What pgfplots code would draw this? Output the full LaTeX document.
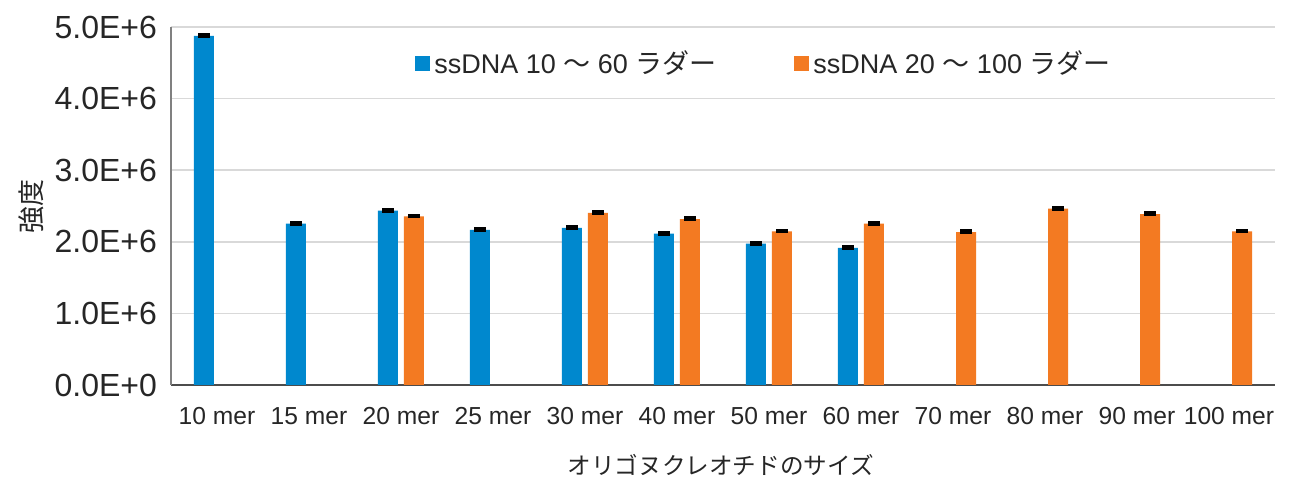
\documentclass[border=0pt]{standalone}
\usepackage{pgfplots}
\pgfplotsset{compat=1.18}
\usepackage{fontspec}
\setmainfont{Liberation Sans}
\newfontfamily\cjk{Noto Sans CJK JP}
\definecolor{blueC}{RGB}{0,136,206}
\definecolor{orangeC}{RGB}{243,122,34}
\definecolor{gridC}{RGB}{217,217,217}
\definecolor{txtC}{RGB}{38,38,38}
\begin{document}
\begin{tikzpicture}
\begin{axis}[
  scale only axis,
  width=552pt, height=179pt,
  ybar=3pt, bar width=10pt,
  xmin=-0.5, xmax=11.5,
  ymin=0, ymax=5e6,
  xtick={0,...,11},
  xticklabels={10 mer,15 mer,20 mer,25 mer,30 mer,40 mer,50 mer,60 mer,70 mer,80 mer,90 mer,100 mer},
  ytick={0,1e6,2e6,3e6,4e6,5e6},
  yticklabels={0.0E+0,1.0E+6,2.0E+6,3.0E+6,4.0E+6,5.0E+6},
  scaled y ticks=false,
  major tick length=0pt,
  tick style={draw=none},
  axis x line*=bottom, axis y line*=left,
  x axis line style={-, draw=black!70, line width=0.8pt},
  y axis line style={-, draw=black!50, line width=0.8pt},
  ymajorgrids, grid style={gridC, line width=0.8pt},
  xticklabel style={font=\fontsize{12.3}{14}\selectfont, text=txtC, yshift=-7pt, text height=9pt, text depth=1pt},
  yticklabel style={font=\fontsize{16}{18}\selectfont, text=txtC, xshift=-3.5pt},
  xlabel={\cjk オリゴヌクレオチドのサイズ},
  xlabel style={font=\fontsize{11.8}{14}\selectfont, text=txtC, at={(rel axis cs:0.498,0)}, anchor=center, yshift=-40pt},
  ylabel={\cjk 強度},
  ylabel style={font=\fontsize{13.5}{15}\selectfont, text=txtC, at={(rel axis cs:0,0.5)}, anchor=center, yshift=70pt},
  legend style={at={(rel axis cs:0.221,0.897)}, anchor=west, draw=none, fill=none, inner sep=0pt,
    font=\fontsize{13.5}{16}\selectfont, text=txtC, legend columns=2,
    /tikz/every even column/.append style={column sep=37pt}},
  legend image code/.code={\fill[#1,draw=none] (0pt,-3.7pt) rectangle (7.5pt,3.7pt);},
  legend cell align=left,
  clip=false,
]
\addplot[fill=blueC, draw=none,
  error bars/.cd, y dir=plus, y explicit,
  error bar style={line width=2.4pt, black},
  error mark options={rotate=90, line width=2.4pt, mark size=2.8pt, black}]
  coordinates {
  (0,4.875e6) +- (0,0.005e6)
  (1,2.255e6) +- (0,0.005e6)
  (2,2.435e6) +- (0,0.005e6)
  (3,2.165e6) +- (0,0.005e6)
  (4,2.195e6) +- (0,0.005e6)
  (5,2.115e6) +- (0,0.005e6)
  (6,1.975e6) +- (0,0.005e6)
  (7,1.915e6) +- (0,0.005e6)
  };
\addlegendentry{ssDNA 10 {\cjk ～} 60 {\cjk ラダー}}
\addplot[fill=orangeC, draw=none,
  error bars/.cd, y dir=plus, y explicit,
  error bar style={line width=2.4pt, black},
  error mark options={rotate=90, line width=2.4pt, mark size=2.8pt, black}]
  coordinates {
  (2,2.355e6) +- (0,0.005e6)
  (4,2.405e6) +- (0,0.005e6)
  (5,2.315e6) +- (0,0.005e6)
  (6,2.145e6) +- (0,0.005e6)
  (7,2.255e6) +- (0,0.005e6)
  (8,2.135e6) +- (0,0.005e6)
  (9,2.465e6) +- (0,0.005e6)
  (10,2.385e6) +- (0,0.005e6)
  (11,2.145e6) +- (0,0.005e6)
  };
\addlegendentry{ssDNA 20 {\cjk ～} 100 {\cjk ラダー}}
\path (rel axis cs:0,0) ++(-85.5pt,-47pt) coordinate (bbsw);
\path (rel axis cs:1,1) ++(8.5pt,13.5pt) coordinate (bbne);
\end{axis}
\path (bbsw) rectangle (bbne);
\end{tikzpicture}
\end{document}
